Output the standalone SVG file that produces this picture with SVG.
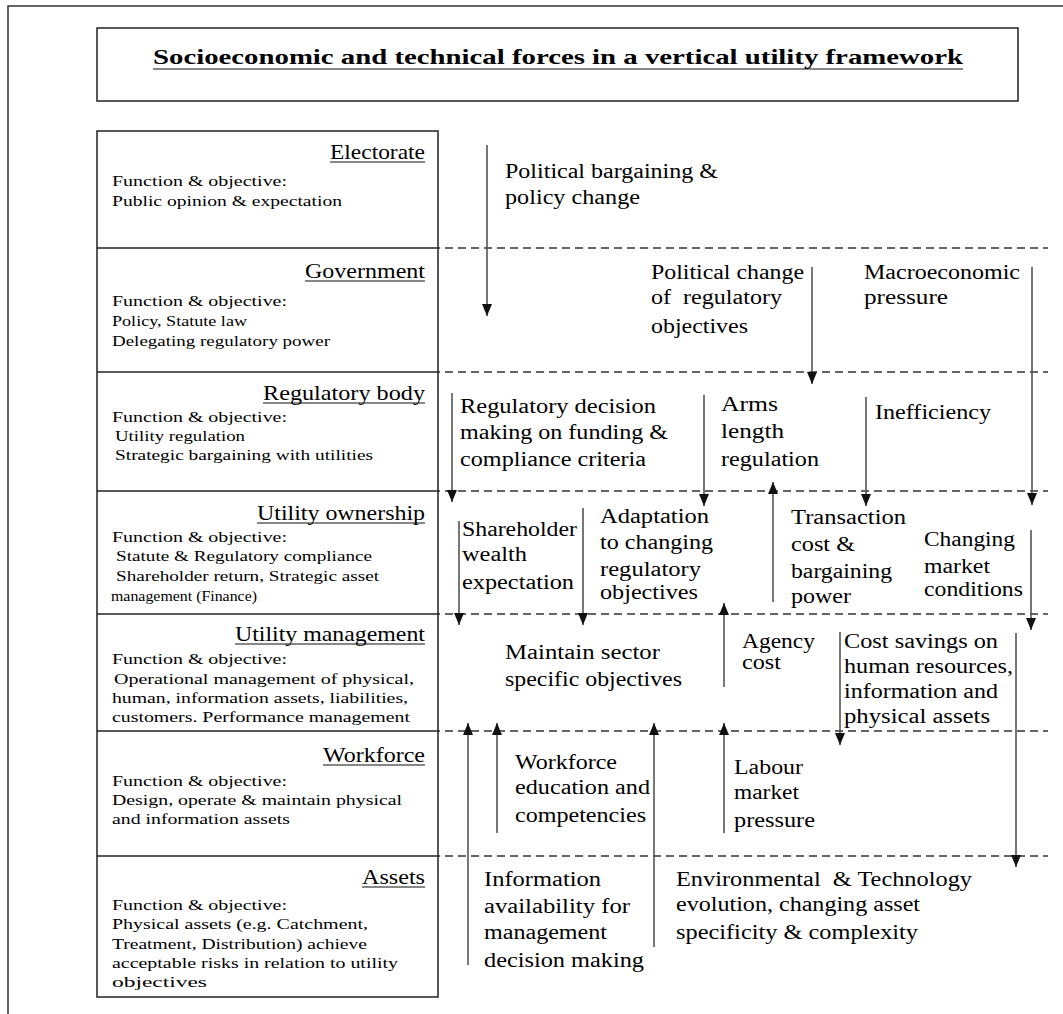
<svg xmlns="http://www.w3.org/2000/svg" width="1063" height="1014" viewBox="0 0 1063 1014">
  <style>
    text { font-family: "Liberation Serif", "Times New Roman", serif; fill: #000; }
    .title { font-size: 22px; font-weight: bold; }
    .lbl { font-size: 22px; }
    .sm { font-size: 14.5px; }
    .fx { font-size: 20px; }
    .frame { fill: none; stroke: #333; stroke-width: 1.5; }
    .box { fill: #fff; stroke: #222; stroke-width: 1.5; }
    .div { stroke: #222; stroke-width: 1.5; }
    .ul { stroke: #111; stroke-width: 1.2; }
    .dash { stroke: #333; stroke-width: 1.3; stroke-dasharray: 8 5; }
    .arr { stroke: #555; stroke-width: 1.6; fill: none; marker-end: url(#head); }
    .pre { white-space: pre; }
  </style>
  <defs>
    <marker id="head" viewBox="0 0 12 10" refX="12" refY="5" markerWidth="12" markerHeight="10" markerUnits="userSpaceOnUse" orient="auto">
      <path d="M0,0 L12,5 L0,10 z" fill="#111"/>
    </marker>
  </defs>

  <rect width="1063" height="1014" fill="#fff"/>

  <!-- page frame (open on the right and bottom) -->
  <path class="frame" d="M8,1014 V6 H1063"/>

  <!-- title -->
  <g id="title">
    <rect class="box" x="97" y="28" width="921" height="73"/>
    <text class="title" x="153" y="64" textLength="810" lengthAdjust="spacingAndGlyphs">Socioeconomic and technical forces in a vertical utility framework</text>
    <line class="ul" x1="153" y1="69" x2="963" y2="69" stroke-width="1.6"/>
  </g>

  <!-- tier boundaries across the force area -->
  <g id="tier-lines">
    <line class="dash" x1="432" y1="248" x2="1048" y2="248"/>
    <line class="dash" x1="432" y1="372" x2="1048" y2="372"/>
    <line class="dash" x1="432" y1="491" x2="1048" y2="491"/>
    <line class="dash" x1="432" y1="614" x2="1048" y2="614"/>
    <line class="dash" x1="432" y1="731" x2="1048" y2="731"/>
    <line class="dash" x1="432" y1="856" x2="1048" y2="856"/>
  </g>

  <!-- stakeholder column -->
  <rect class="box" x="97" y="131" width="341" height="866" fill="none"/>
  <g id="dividers">
    <line class="div" x1="97" y1="248" x2="438" y2="248"/>
    <line class="div" x1="97" y1="372" x2="438" y2="372"/>
    <line class="div" x1="97" y1="491" x2="438" y2="491"/>
    <line class="div" x1="97" y1="614" x2="438" y2="614"/>
    <line class="div" x1="97" y1="731" x2="438" y2="731"/>
    <line class="div" x1="97" y1="856" x2="438" y2="856"/>
  </g>

  <g id="electorate">
    <text class="lbl" x="330" y="159" textLength="95" lengthAdjust="spacingAndGlyphs">Electorate</text>
    <line class="ul" x1="330" y1="162" x2="425" y2="162"/>
    <text class="sm" x="112" y="186" textLength="175" lengthAdjust="spacingAndGlyphs">Function &amp; objective:</text>
    <text class="sm" x="112" y="206" textLength="230" lengthAdjust="spacingAndGlyphs">Public opinion &amp; expectation</text>
  </g>

  <g id="government">
    <text class="lbl" x="305" y="278" textLength="120" lengthAdjust="spacingAndGlyphs">Government</text>
    <line class="ul" x1="305" y1="281" x2="425" y2="281"/>
    <text class="sm" x="112" y="306" textLength="175" lengthAdjust="spacingAndGlyphs">Function &amp; objective:</text>
    <text class="sm" x="112" y="326" textLength="135" lengthAdjust="spacingAndGlyphs">Policy, Statute law</text>
    <text class="sm" x="112" y="346" textLength="218" lengthAdjust="spacingAndGlyphs">Delegating regulatory power</text>
  </g>

  <g id="regulatory-body">
    <text class="lbl" x="263" y="400" textLength="162" lengthAdjust="spacingAndGlyphs">Regulatory body</text>
    <line class="ul" x1="263" y1="403" x2="425" y2="403"/>
    <text class="sm" x="112" y="422" textLength="175" lengthAdjust="spacingAndGlyphs">Function &amp; objective:</text>
    <text class="sm" x="115" y="441" textLength="130" lengthAdjust="spacingAndGlyphs">Utility regulation</text>
    <text class="sm" x="115" y="460" textLength="258" lengthAdjust="spacingAndGlyphs">Strategic bargaining with utilities</text>
  </g>

  <g id="utility-ownership">
    <text class="lbl" x="257" y="520" textLength="168" lengthAdjust="spacingAndGlyphs">Utility ownership</text>
    <line class="ul" x1="257" y1="523" x2="425" y2="523"/>
    <text class="sm" x="112" y="542" textLength="175" lengthAdjust="spacingAndGlyphs">Function &amp; objective:</text>
    <text class="sm" x="116" y="561" textLength="256" lengthAdjust="spacingAndGlyphs">Statute &amp; Regulatory compliance</text>
    <text class="sm" x="116" y="581" textLength="263" lengthAdjust="spacingAndGlyphs">Shareholder return, Strategic asset</text>
    <text class="sm" x="111" y="601" textLength="146" lengthAdjust="spacingAndGlyphs">management (Finance)</text>
  </g>

  <g id="utility-management">
    <text class="lbl" x="235" y="641" textLength="190" lengthAdjust="spacingAndGlyphs">Utility management</text>
    <line class="ul" x1="235" y1="644" x2="425" y2="644"/>
    <text class="sm" x="112" y="664" textLength="175" lengthAdjust="spacingAndGlyphs">Function &amp; objective:</text>
    <text class="sm" x="114" y="684" textLength="300" lengthAdjust="spacingAndGlyphs">Operational management of physical,</text>
    <text class="sm" x="112" y="703" textLength="296" lengthAdjust="spacingAndGlyphs">human, information assets, liabilities,</text>
    <text class="sm" x="112" y="722" textLength="298" lengthAdjust="spacingAndGlyphs">customers. Performance management</text>
  </g>

  <g id="workforce">
    <text class="lbl" x="323" y="762" textLength="102" lengthAdjust="spacingAndGlyphs">Workforce</text>
    <line class="ul" x1="323" y1="765" x2="425" y2="765"/>
    <text class="sm" x="112" y="786" textLength="175" lengthAdjust="spacingAndGlyphs">Function &amp; objective:</text>
    <text class="sm" x="112" y="805" textLength="290" lengthAdjust="spacingAndGlyphs">Design, operate &amp; maintain physical</text>
    <text class="sm" x="112" y="824" textLength="178" lengthAdjust="spacingAndGlyphs">and information assets</text>
  </g>

  <g id="assets">
    <text class="lbl" x="362" y="884" textLength="63" lengthAdjust="spacingAndGlyphs">Assets</text>
    <line class="ul" x1="362" y1="887" x2="425" y2="887"/>
    <text class="sm" x="112" y="910" textLength="175" lengthAdjust="spacingAndGlyphs">Function &amp; objective:</text>
    <text class="sm" x="112" y="929" textLength="256" lengthAdjust="spacingAndGlyphs">Physical assets (e.g. Catchment,</text>
    <text class="sm" x="112" y="949" textLength="255" lengthAdjust="spacingAndGlyphs">Treatment, Distribution) achieve</text>
    <text class="sm" x="112" y="968" textLength="286" lengthAdjust="spacingAndGlyphs">acceptable risks in relation to utility</text>
    <text class="sm" x="112" y="987" textLength="95" lengthAdjust="spacingAndGlyphs">objectives</text>
  </g>

  <!-- forces acting between tiers -->
  <g id="connectors">
    <!-- downward -->
    <line class="arr" x1="487" y1="145" x2="487" y2="316"/>
    <line class="arr" x1="812" y1="267" x2="812" y2="384"/>
    <line class="arr" x1="1032" y1="267" x2="1032" y2="505"/>
    <line class="arr" x1="452" y1="393" x2="452" y2="502"/>
    <line class="arr" x1="704" y1="395" x2="704" y2="506"/>
    <line class="arr" x1="866" y1="397" x2="866" y2="506"/>
    <line class="arr" x1="459" y1="521" x2="459" y2="625"/>
    <line class="arr" x1="583" y1="508" x2="583" y2="625"/>
    <line class="arr" x1="1031" y1="530" x2="1031" y2="630"/>
    <line class="arr" x1="840" y1="632" x2="840" y2="745"/>
    <line class="arr" x1="1016" y1="633" x2="1016" y2="867"/>
    <!-- upward -->
    <line class="arr" x1="773" y1="602" x2="773" y2="482"/>
    <line class="arr" x1="724" y1="687" x2="724" y2="603"/>
    <line class="arr" x1="468" y1="965" x2="468" y2="723"/>
    <line class="arr" x1="497" y1="833" x2="497" y2="723"/>
    <line class="arr" x1="654" y1="947" x2="654" y2="723"/>
    <line class="arr" x1="724" y1="833" x2="724" y2="723"/>
  </g>

  <g id="force-labels">
    <text class="fx" x="505" y="178" textLength="213" lengthAdjust="spacingAndGlyphs">Political bargaining &amp;</text>
    <text class="fx" x="505" y="204" textLength="135" lengthAdjust="spacingAndGlyphs">policy change</text>

    <text class="fx" x="651" y="279" textLength="153" lengthAdjust="spacingAndGlyphs">Political change</text>
    <text class="fx pre" x="651" y="304" textLength="131" lengthAdjust="spacingAndGlyphs" xml:space="preserve">of  regulatory</text>
    <text class="fx" x="651" y="333" textLength="97" lengthAdjust="spacingAndGlyphs">objectives</text>

    <text class="fx" x="864" y="279" textLength="156" lengthAdjust="spacingAndGlyphs">Macroeconomic</text>
    <text class="fx" x="864" y="304" textLength="84" lengthAdjust="spacingAndGlyphs">pressure</text>

    <text class="fx" x="460" y="413" textLength="196" lengthAdjust="spacingAndGlyphs">Regulatory decision</text>
    <text class="fx" x="460" y="439" textLength="208" lengthAdjust="spacingAndGlyphs">making on funding &amp;</text>
    <text class="fx" x="460" y="466" textLength="186" lengthAdjust="spacingAndGlyphs">compliance criteria</text>

    <text class="fx" x="721" y="411" textLength="57" lengthAdjust="spacingAndGlyphs">Arms</text>
    <text class="fx" x="721" y="438" textLength="63" lengthAdjust="spacingAndGlyphs">length</text>
    <text class="fx" x="721" y="466" textLength="98" lengthAdjust="spacingAndGlyphs">regulation</text>

    <text class="fx" x="875" y="419" textLength="116" lengthAdjust="spacingAndGlyphs">Inefficiency</text>

    <text class="fx" x="462" y="536" textLength="115" lengthAdjust="spacingAndGlyphs">Shareholder</text>
    <text class="fx" x="462" y="561" textLength="65" lengthAdjust="spacingAndGlyphs">wealth</text>
    <text class="fx" x="462" y="589" textLength="112" lengthAdjust="spacingAndGlyphs">expectation</text>

    <text class="fx" x="600" y="523" textLength="109" lengthAdjust="spacingAndGlyphs">Adaptation</text>
    <text class="fx" x="600" y="549" textLength="113" lengthAdjust="spacingAndGlyphs">to changing</text>
    <text class="fx" x="600" y="576" textLength="101" lengthAdjust="spacingAndGlyphs">regulatory</text>
    <text class="fx" x="600" y="599" textLength="98" lengthAdjust="spacingAndGlyphs">objectives</text>

    <text class="fx" x="791" y="524" textLength="115" lengthAdjust="spacingAndGlyphs">Transaction</text>
    <text class="fx" x="791" y="551" textLength="64" lengthAdjust="spacingAndGlyphs">cost &amp;</text>
    <text class="fx" x="791" y="578" textLength="101" lengthAdjust="spacingAndGlyphs">bargaining</text>
    <text class="fx" x="791" y="603" textLength="60" lengthAdjust="spacingAndGlyphs">power</text>

    <text class="fx" x="924" y="546" textLength="91" lengthAdjust="spacingAndGlyphs">Changing</text>
    <text class="fx" x="924" y="573" textLength="66" lengthAdjust="spacingAndGlyphs">market</text>
    <text class="fx" x="924" y="596" textLength="99" lengthAdjust="spacingAndGlyphs">conditions</text>

    <text class="fx" x="505" y="659" textLength="155" lengthAdjust="spacingAndGlyphs">Maintain sector</text>
    <text class="fx" x="505" y="686" textLength="177" lengthAdjust="spacingAndGlyphs">specific objectives</text>

    <text class="fx" x="742" y="648" textLength="73" lengthAdjust="spacingAndGlyphs">Agency</text>
    <text class="fx" x="742" y="669" textLength="39" lengthAdjust="spacingAndGlyphs">cost</text>

    <text class="fx" x="844" y="648" textLength="154" lengthAdjust="spacingAndGlyphs">Cost savings on</text>
    <text class="fx" x="844" y="673" textLength="169" lengthAdjust="spacingAndGlyphs">human resources,</text>
    <text class="fx" x="844" y="698" textLength="154" lengthAdjust="spacingAndGlyphs">information and</text>
    <text class="fx" x="844" y="723" textLength="146" lengthAdjust="spacingAndGlyphs">physical assets</text>

    <text class="fx" x="515" y="769" textLength="102" lengthAdjust="spacingAndGlyphs">Workforce</text>
    <text class="fx" x="515" y="794" textLength="135" lengthAdjust="spacingAndGlyphs">education and</text>
    <text class="fx" x="515" y="822" textLength="131" lengthAdjust="spacingAndGlyphs">competencies</text>

    <text class="fx" x="734" y="774" textLength="69" lengthAdjust="spacingAndGlyphs">Labour</text>
    <text class="fx" x="734" y="799" textLength="65" lengthAdjust="spacingAndGlyphs">market</text>
    <text class="fx" x="734" y="827" textLength="81" lengthAdjust="spacingAndGlyphs">pressure</text>

    <text class="fx" x="484" y="886" textLength="117" lengthAdjust="spacingAndGlyphs">Information</text>
    <text class="fx" x="484" y="913" textLength="146" lengthAdjust="spacingAndGlyphs">availability for</text>
    <text class="fx" x="484" y="939" textLength="123" lengthAdjust="spacingAndGlyphs">management</text>
    <text class="fx" x="484" y="967" textLength="160" lengthAdjust="spacingAndGlyphs">decision making</text>

    <text class="fx pre" x="676" y="886" textLength="296" lengthAdjust="spacingAndGlyphs" xml:space="preserve">Environmental  &amp; Technology</text>
    <text class="fx" x="676" y="911" textLength="244" lengthAdjust="spacingAndGlyphs">evolution, changing asset</text>
    <text class="fx" x="676" y="939" textLength="242" lengthAdjust="spacingAndGlyphs">specificity &amp; complexity</text>
  </g>
</svg>
